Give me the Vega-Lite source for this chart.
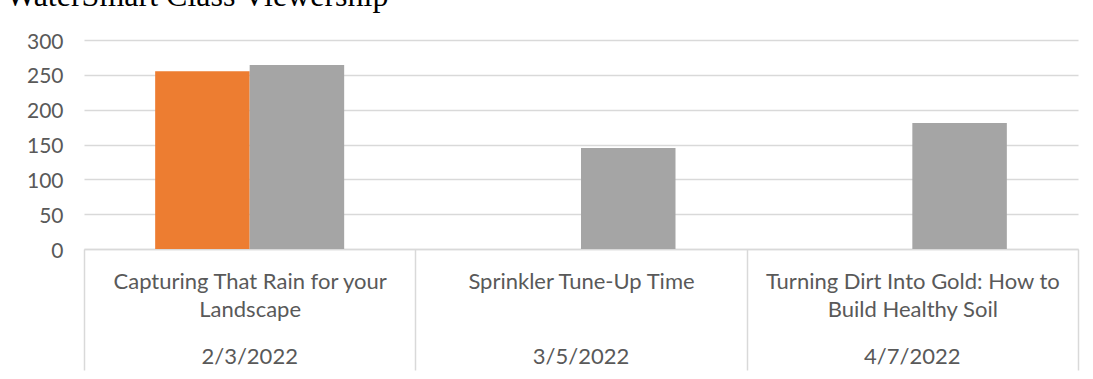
{
  "$schema": "https://vega.github.io/schema/vega-lite/v6.json",
  "width": 994,
  "height": 209,
  "autosize": {"type": "none"},
  "padding": {"left": 84, "top": 40, "right": 15, "bottom": 130},
  "background": "#ffffff",
  "title": {
    "text": "WaterSmart Class Viewership",
    "anchor": "start",
    "frame": "group",
    "font": "Liberation Serif",
    "fontSize": 32,
    "fontWeight": "normal",
    "color": "#000000",
    "baseline": "alphabetic",
    "offset": -7,
    "dx": -78
  },
  "data": {
    "values": [
      {"session": "2/3/2022", "line1": "Capturing That Rain for your", "line2": "Landscape", "series": "Series 1", "viewers": 255},
      {"session": "2/3/2022", "line1": "Capturing That Rain for your", "line2": "Landscape", "series": "Series 2", "viewers": 264},
      {"session": "3/5/2022", "line1": "Sprinkler Tune-Up Time", "line2": "", "series": "Series 2", "viewers": 145},
      {"session": "4/7/2022", "line1": "Turning Dirt Into Gold: How to", "line2": "Build Healthy Soil", "series": "Series 2", "viewers": 181}
    ]
  },
  "transform": [
    {"calculate": "datum.line2 === '' ? datum.line1 : datum.line1 + '|' + datum.line2", "as": "classTitle"}
  ],
  "encoding": {
    "xOffset": {
      "field": "series",
      "type": "nominal",
      "scale": {"domain": ["Series 1", "Series 2"], "paddingInner": 0, "paddingOuter": 0.753}
    },
    "y": {
      "field": "viewers",
      "type": "quantitative",
      "scale": {"domain": [0, 300], "nice": false},
      "axis": {
        "title": null,
        "values": [0, 50, 100, 150, 200, 250, 300],
        "labelFont": "Lato",
        "labelFontSize": 21,
        "labelColor": "#595959",
        "labelPadding": 21,
        "labelBaseline": "alphabetic",
        "labelOffset": 8,
        "ticks": false,
        "domain": false,
        "grid": true,
        "gridColor": "#d9d9d9",
        "gridWidth": 1.5
      }
    },
    "color": {
      "field": "series",
      "type": "nominal",
      "scale": {"domain": ["Series 1", "Series 2"], "range": ["#ED7D31", "#A5A5A5"]},
      "legend": null
    }
  },
  "layer": [
    {
      "transform": [{"filter": "datum.series === 'Series 1'"}],
      "mark": {"type": "bar"},
      "encoding": {
        "x": {
          "field": "session",
          "type": "nominal",
          "sort": null,
          "scale": {"domain": ["2/3/2022", "3/5/2022", "4/7/2022"], "paddingInner": 0, "paddingOuter": 0},
          "axis": {
            "orient": "bottom",
            "title": null,
            "labelAngle": 0,
            "labelExpr": "datum.value === '2/3/2022' ? ['Capturing That Rain for your', 'Landscape'] : datum.value === '3/5/2022' ? 'Sprinkler Tune-Up Time' : datum.value === '4/7/2022' ? ['Turning Dirt Into Gold: How to', 'Build Healthy Soil'] : ''",
            "labelFont": "Lato",
            "labelFontSize": 22,
            "labelColor": "#595959",
            "labelLineHeight": 28.4,
            "labelPadding": -82,
            "labelBaseline": "alphabetic",
            "labelLimit": 0,
            "tickBand": "extent",
            "tickSize": 121,
            "tickColor": "#d9d9d9",
            "tickWidth": 1.5,
            "domainColor": "#d9d9d9",
            "domainWidth": 1.5,
            "grid": false
          }
        }
      }
    },
    {
      "transform": [{"filter": "datum.series === 'Series 2'"}],
      "mark": {"type": "bar"},
      "encoding": {
        "x": {
          "field": "session",
          "type": "nominal",
          "sort": null,
          "axis": {
            "orient": "bottom",
            "title": null,
            "labelAngle": 0,
            "labelFont": "Lato",
            "labelFontSize": 22,
            "labelColor": "#595959",
            "labelPadding": 114,
            "labelBaseline": "alphabetic",
            "labelLimit": 0,
            "ticks": false,
            "domain": false,
            "grid": false
          }
        }
      }
    }
  ],
  "resolve": {"axis": {"x": "independent"}},
  "config": {
    "view": {"stroke": null}
  }
}
